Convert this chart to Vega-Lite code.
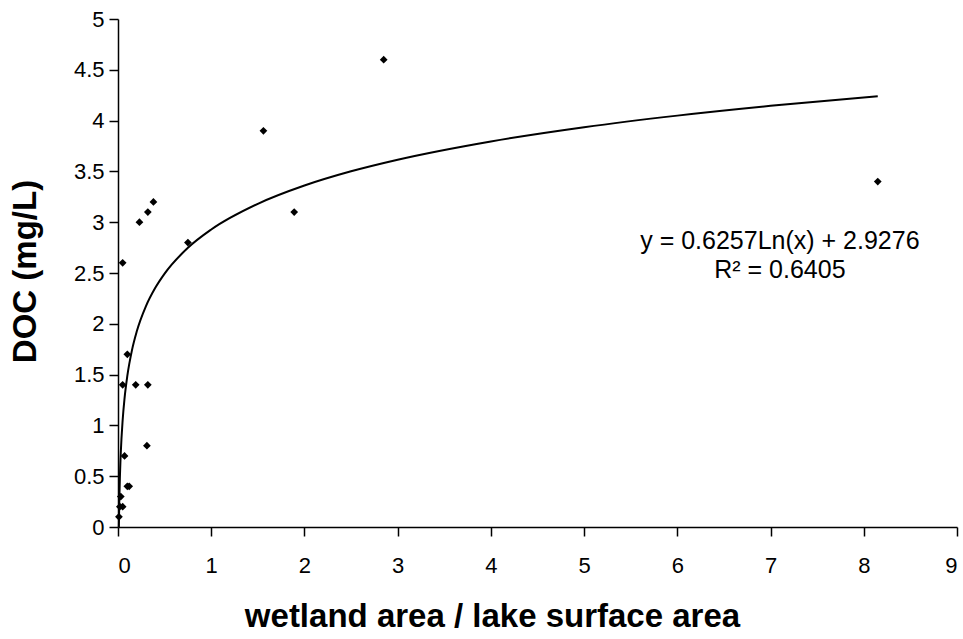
{
  "$schema": "https://vega.github.io/schema/vega-lite/v6.json",
  "autosize": "none",
  "width": 839,
  "height": 508,
  "padding": {"left": 118, "top": 19, "right": 6, "bottom": 112},
  "background": "white",
  "config": {
    "view": {"stroke": null},
    "font": "Liberation Sans",
    "axis": {
      "grid": false,
      "domainColor": "black",
      "domainWidth": 1.5,
      "tickColor": "black",
      "tickWidth": 1.5,
      "labelColor": "black",
      "labelFont": "Liberation Sans",
      "labelFontSize": 22,
      "titleFont": "Liberation Sans",
      "titleFontSize": 33,
      "titleFontWeight": "bold",
      "titleColor": "black"
    }
  },
  "datasets": {
    "pts": [
      {"x": 0.01, "y": 0.1},
      {"x": 0.02, "y": 0.2},
      {"x": 0.05, "y": 0.2},
      {"x": 0.03, "y": 0.3},
      {"x": 0.1, "y": 0.4},
      {"x": 0.12, "y": 0.4},
      {"x": 0.07, "y": 0.7},
      {"x": 0.31, "y": 0.8},
      {"x": 0.05, "y": 1.4},
      {"x": 0.19, "y": 1.4},
      {"x": 0.32, "y": 1.4},
      {"x": 0.1, "y": 1.7},
      {"x": 0.05, "y": 2.6},
      {"x": 0.75, "y": 2.8},
      {"x": 0.23, "y": 3.0},
      {"x": 0.32, "y": 3.1},
      {"x": 0.38, "y": 3.2},
      {"x": 1.89, "y": 3.1},
      {"x": 1.56, "y": 3.9},
      {"x": 2.85, "y": 4.6},
      {"x": 8.15, "y": 3.4}
    ],
    "trend": [
      {"x": 0.0093, "y": 0.0},
      {"x": 0.012, "y": 0.16},
      {"x": 0.015, "y": 0.3},
      {"x": 0.02, "y": 0.48},
      {"x": 0.03, "y": 0.734},
      {"x": 0.05, "y": 1.053},
      {"x": 0.07, "y": 1.264},
      {"x": 0.1, "y": 1.487},
      {"x": 0.15, "y": 1.741},
      {"x": 0.2, "y": 1.921},
      {"x": 0.3, "y": 2.174},
      {"x": 0.4, "y": 2.354},
      {"x": 0.5, "y": 2.494},
      {"x": 0.75, "y": 2.748},
      {"x": 1, "y": 2.928},
      {"x": 1.5, "y": 3.181},
      {"x": 2, "y": 3.361},
      {"x": 2.5, "y": 3.501},
      {"x": 3, "y": 3.615},
      {"x": 4, "y": 3.795},
      {"x": 5, "y": 3.935},
      {"x": 6, "y": 4.049},
      {"x": 7, "y": 4.145},
      {"x": 8.15, "y": 4.24}
    ],
    "labels": [
      {"x": 7.1, "y": 2.815, "t": "y = 0.6257Ln(x) + 2.9276"},
      {"x": 7.1, "y": 2.53, "t": "R² = 0.6405"}
    ]
  },
  "layer": [
    {
      "data": {"name": "trend"},
      "mark": {"type": "line", "color": "black", "strokeWidth": 2, "interpolate": "monotone"},
      "encoding": {
        "x": {
          "field": "x", "type": "quantitative",
          "scale": {"domain": [0, 9], "nice": false},
          "axis": {
            "values": [0, 1, 2, 3, 4, 5, 6, 7, 8, 9],
            "format": "~g",
            "tickSize": 9,
            "labelPadding": 19,
            "title": "wetland area / lake surface area",
            "titleX": 374,
            "titleY": 99,
            "titleAnchor": null,
            "titleAlign": "center",
            "titleBaseline": "alphabetic"
          }
        },
        "y": {
          "field": "y", "type": "quantitative",
          "scale": {"domain": [0, 5], "nice": false},
          "axis": {
            "values": [0, 0.5, 1, 1.5, 2, 2.5, 3, 3.5, 4, 4.5, 5],
            "format": "~g",
            "tickSize": 9,
            "labelPadding": 5,
            "title": "DOC (mg/L)",
            "titleX": -93,
            "titleY": 252,
            "titleAlign": "center",
            "titleBaseline": "middle"
          }
        }
      }
    },
    {
      "data": {"name": "pts"},
      "mark": {"type": "point", "shape": "diamond", "filled": true, "color": "black", "size": 60, "opacity": 1},
      "encoding": {
        "x": {"field": "x", "type": "quantitative"},
        "y": {"field": "y", "type": "quantitative"}
      }
    },
    {
      "data": {"name": "labels"},
      "mark": {"type": "text", "font": "Liberation Sans", "fontSize": 25, "color": "black", "align": "center", "baseline": "middle"},
      "encoding": {
        "x": {"field": "x", "type": "quantitative"},
        "y": {"field": "y", "type": "quantitative"},
        "text": {"field": "t"}
      }
    }
  ]
}
